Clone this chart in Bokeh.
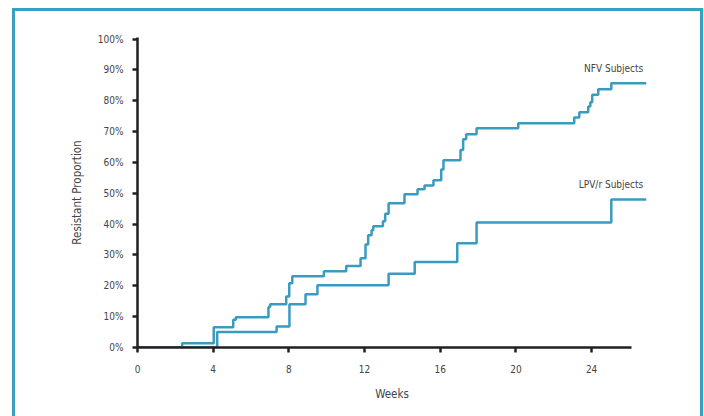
from bokeh.plotting import figure
from bokeh.models import Range1d, FixedTicker, PrintfTickFormatter, Label
from bokeh.embed import file_html
from bokeh.resources import INLINE

# ---- data ----
nfv_weeks = [0, 2.36, 4.03, 5.06, 5.20, 6.92, 7.01, 7.86, 8.02, 8.18, 9.85, 11.03, 11.79,
             12.05, 12.19, 12.37, 12.46, 12.97, 13.09, 13.27, 14.11, 14.80, 15.17, 15.64,
             16.05, 16.17, 17.07, 17.21, 17.37, 17.92, 20.12, 23.08, 23.35, 23.82, 23.93,
             24.03, 24.35, 25.04]
nfv_pct = [0, 1.4, 6.6, 9.0, 9.8, 13.1, 14.0, 16.5, 20.8, 23.1, 24.7, 26.4, 28.9,
           33.4, 36.4, 38.0, 39.3, 40.9, 43.4, 46.8, 49.7, 51.3, 52.5, 54.2,
           57.7, 60.7, 64.0, 67.5, 69.1, 71.1, 72.7, 74.6, 76.3, 78.1, 79.5,
           81.9, 83.7, 85.7]
lpv_weeks = [0, 4.21, 7.35, 8.03, 8.88, 9.51, 13.27, 14.65, 16.90, 17.92, 25.04]
lpv_pct = [0, 5.0, 6.8, 14.0, 17.3, 20.2, 23.9, 27.7, 33.8, 40.5, 48.0]
end_week = 26.9

x_ticks = [0, 4, 8, 12, 16, 20, 24]
y_ticks = [0, 10, 20, 30, 40, 50, 60, 70, 80, 90, 100]
series_labels = ["NFV Subjects", "LPV/r Subjects"]

FONT = "'Liberation Sans Narrow', 'DejaVu Sans Condensed', 'Arial Narrow', sans-serif"
BLUE = "#3a9bc1"
FRAME = "#3b9fc2"
AXIS = "#231f20"
TXT = "#444444"

p = figure(width=685, height=405, output_backend="svg", toolbar_location=None,
           x_range=Range1d(0, end_week), y_range=Range1d(0, 100.5),
           min_border_left=122, min_border_right=60, min_border_top=26,
           min_border_bottom=72, background_fill_color="white",
           border_fill_color="white")
p.styles = {"box-sizing": "content-box",
            "margin-left": "12px",
            "margin-top": "8px",
            "border-left": f"3px solid {FRAME}",
            "border-top": f"3px solid {FRAME}",
            "border-right": f"3px solid {FRAME}"}
p.outline_line_color = None
p.xgrid.visible = False
p.ygrid.visible = False

p.step(nfv_weeks + [end_week], nfv_pct + [nfv_pct[-1]], mode="after",
       line_color=BLUE, line_width=2.5)
p.step(lpv_weeks + [end_week], lpv_pct + [lpv_pct[-1]], mode="after",
       line_color=BLUE, line_width=2.5)

for ax in (p.xaxis[0], p.yaxis[0]):
    ax.axis_line_color = AXIS
    ax.axis_line_width = 2.5
    ax.major_tick_line_color = AXIS
    ax.major_tick_line_width = 2.5
    ax.major_tick_in = 0
    ax.major_tick_out = 5
    ax.minor_tick_line_color = None
    ax.major_label_text_font = FONT
    ax.major_label_text_font_size = "10px"
    ax.major_label_text_color = TXT
    ax.axis_label_text_font = FONT
    ax.axis_label_text_font_size = "11.5px"
    ax.axis_label_text_font_style = "normal"
    ax.axis_label_text_color = TXT

p.xaxis.ticker = FixedTicker(ticks=x_ticks)
p.xaxis.bounds = (0, 26.1)
p.xaxis.major_label_standoff = 12
p.xaxis.axis_label = "Weeks"
p.xaxis.axis_label_standoff = 11

p.yaxis.ticker = FixedTicker(ticks=y_ticks)
p.yaxis.formatter = PrintfTickFormatter(format="%d%%")
p.yaxis.bounds = (0, 100.5)
p.yaxis.major_label_standoff = 9
p.yaxis.axis_label = "Resistant Proportion"
p.yaxis.axis_label_standoff = 11

p.add_layout(Label(x=26.73, y=90.3, text=series_labels[0], text_align="right",
                   text_baseline="middle", text_font=FONT, text_font_size="10px",
                   text_color=TXT))
p.add_layout(Label(x=26.73, y=52.8, text=series_labels[1], text_align="right",
                   text_baseline="middle", text_font=FONT, text_font_size="10px",
                   text_color=TXT))

open("out.html", "w").write(file_html(p, INLINE))
